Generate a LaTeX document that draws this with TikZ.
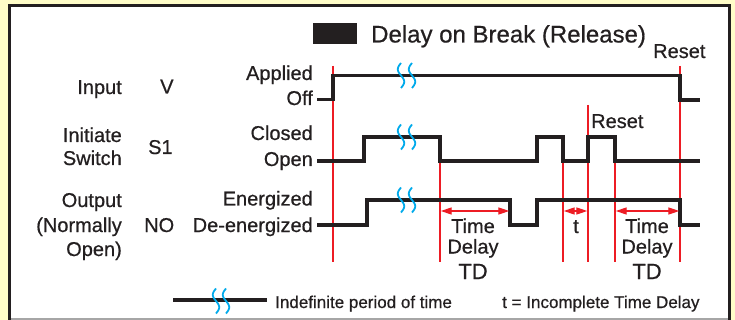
\documentclass[tikz,border=0pt]{standalone}
\usepackage{fontspec}
\setmainfont{Liberation Sans}[FakeBold=0.6]
\usetikzlibrary{arrows.meta}
\definecolor{bgyellow}{RGB}{255,253,200}
\definecolor{sigblack}{RGB}{35,31,32}
\definecolor{tred}{RGB}{237,28,36}
\definecolor{breakblue}{RGB}{0,170,235}
\newcommand\brkmark[2]{\draw[brk] plot[variable=\t,domain=-12.5:12.5,samples=31,smooth] ({#1+3.2*sin(14.4*\t)},{#2+\t});}
\begin{document}
\begin{tikzpicture}[x=1pt,y=-1pt,
  lbl/.style={inner sep=0pt, font=\fontsize{20}{24}\selectfont, text=sigblack},
  leg/.style={inner sep=0pt, font=\fontsize{17}{20}\selectfont, text=sigblack},
  sig/.style={line width=3.5pt, draw=sigblack, line join=miter},
  redline/.style={line width=1.2pt, draw=tred},
  tdarrow/.style={line width=1.2pt, draw=tred, {Triangle[length=11pt,width=7pt]}-{Triangle[length=11pt,width=7pt]}},
  brk/.style={line width=1.8pt, draw=breakblue},
]
\useasboundingbox (0,0) rectangle (735,320);
% background and panel
\fill[bgyellow] (0,0) rectangle (735,320);
\fill[white] (9.5,5.5) rectangle (729,319.5);
\draw[line width=1.2pt, gray!70] (9.5,319) -- (729,319);
\draw[line width=3pt, sigblack] (9.5,320) -- (9.5,5.5) -- (729,5.5) -- (729,320);

% title
\fill[sigblack] (313,23) rectangle (357,44);
\node[lbl, anchor=base west, font=\fontsize{24}{28}\selectfont] (title) at (371,42.5) {Delay on Break (Release)};

% red reference lines
\draw[redline] (333,66) -- (333,262);
\draw[redline] (440,161) -- (440,262);
\draw[redline] (563,161) -- (563,262);
\draw[redline] (588,105) -- (588,262);
\draw[redline] (615,161) -- (615,262);
\draw[redline] (680,66) -- (680,262);

% signals
\draw[sig] (317,99.5) -- (333,99.5) -- (333,75.5) -- (680,75.5) -- (680,100) -- (700,100);
\draw[sig] (317,161) -- (364,161) -- (364,137) -- (440,137) -- (440,161) -- (537,161) -- (537,137) -- (563,137) -- (563,161) -- (588,161) -- (588,137) -- (615,137) -- (615,161) -- (700,161);
\draw[sig] (317,225) -- (367,225) -- (367,200) -- (510,200) -- (510,225) -- (537,225) -- (537,200) -- (680,200) -- (680,225) -- (700,225);

% break marks
\brkmark{401}{75.5}\brkmark{412}{75.5}
\brkmark{401}{137}\brkmark{412}{137}
\brkmark{401}{200}\brkmark{412}{200}

% time delay arrows
\draw[tdarrow] (440.7,211) -- (509.3,211);
\draw[tdarrow] (563.7,211) -- (587.3,211);
\draw[tdarrow] (615.7,211) -- (679.3,211);

% left labels
\node[lbl, anchor=base east] (input) at (122,94) {Input};
\node[lbl, anchor=base west] (v) at (160,93.5) {V};
\node[lbl, anchor=base east] (initiate) at (122,142) {Initiate};
\node[lbl, anchor=base east] (switch) at (122,165) {Switch};
\node[lbl, anchor=base west] (s1) at (148,154) {S1};
\node[lbl, anchor=base east] (output) at (122,207) {Output};
\node[lbl, anchor=base east] (normally) at (122,232) {(Normally};
\node[lbl, anchor=base east] (open2) at (122,256) {Open)};
\node[lbl, anchor=base west] (no) at (144,232) {NO};

% state labels
\node[lbl, anchor=base east] (applied) at (313,80) {Applied};
\node[lbl, anchor=base east] (off) at (313,105) {Off};
\node[lbl, anchor=base east] (closed) at (313,140) {Closed};
\node[lbl, anchor=base east] (open) at (313,166) {Open};
\node[lbl, anchor=base east] (energized) at (313,205.5) {Energized};
\node[lbl, anchor=base east] (deenergized) at (313,232) {De-energized};

% reset labels
\node[lbl, anchor=base west] (reset1) at (653,58) {Reset};
\node[lbl, anchor=base west] (reset2) at (591,128) {Reset};

% delay labels
\node[lbl, anchor=base] (time1) at (473,233) {Time};
\node[lbl, anchor=base] (delay1) at (473,253.5) {Delay};
\node[lbl, anchor=base, font=\fontsize{22}{26}\selectfont] (td1) at (473,279) {TD};
\node[lbl, anchor=base] (tlab) at (576,233) {t};
\node[lbl, anchor=base] (time2) at (647,233) {Time};
\node[lbl, anchor=base] (delay2) at (647,253.5) {Delay};
\node[lbl, anchor=base, font=\fontsize{22}{26}\selectfont] (td2) at (647,279) {TD};

% legend
\draw[sig] (173,300) -- (267,300);
\brkmark{216}{301}\brkmark{226}{301}
\node[leg, anchor=base west] (legA) at (275,308) {Indefinite period of time};
\node[leg, anchor=base west] (legB) at (502,308) {t = Incomplete Time Delay};
\end{tikzpicture}
\end{document}
